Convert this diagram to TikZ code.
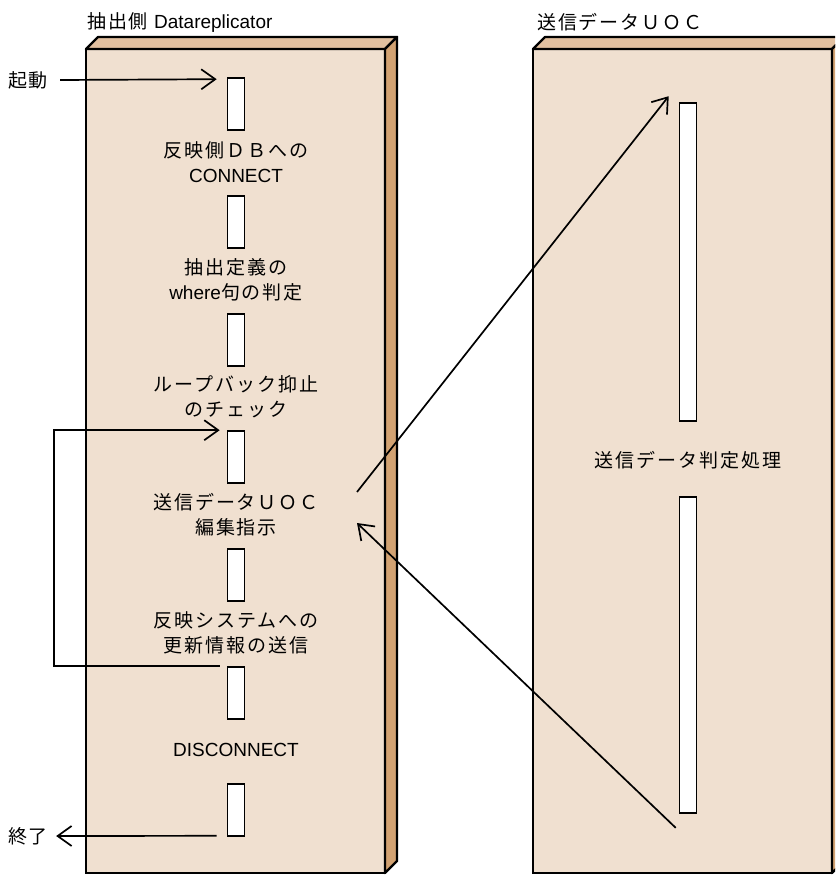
\documentclass[tikz,border=0pt]{standalone}
\usepackage{fontspec}
\setmainfont{Noto Sans CJK JP}[LetterSpace=10]
\newfontfamily\latin{Liberation Sans}
\usetikzlibrary{arrows.meta, positioning}
\definecolor{slabfront}{HTML}{F0E0D0}
\definecolor{slabtop}{HTML}{E2C0A0}
\definecolor{slabside}{HTML}{D2A272}

\begin{document}
\begin{tikzpicture}[
    x=1pt, y=-1pt,
    front/.style={draw, line width=2.4pt, fill=slabfront},
    topface/.style={draw, line width=2.4pt, fill=slabtop, line join=round},
    sideface/.style={draw, line width=2.4pt, fill=slabside, line join=round},
    act/.style={draw, fill=white, line width=1.6pt, minimum width=17pt, minimum height=52pt, inner sep=0pt},
    lbl/.style={font=\fontsize{19}{25}\selectfont, align=center, inner sep=0pt},
    arrow/.style={-{Straight Barb[length=14pt, width=20pt]}, line width=1.7pt}
]
\useasboundingbox (0,0) rectangle (835,877);
\clip (0,0) rectangle (835,877);

% --- 二つの筐体 ---
\foreach \bx in {86,533} {
  \draw[front] (\bx,49) rectangle ++(299,824);
  \draw[topface] (\bx,49) -- ++(12,-12) -- ++(299,0) -- ++(-12,12) -- cycle;
  \draw[sideface] (\bx,49) ++(299,0) -- ++(12,-12) -- ++(0,824) -- ++(-12,12) -- cycle;
}
\node[lbl, anchor=west] (srcttl) at (87,22) {抽出側 {\latin Datareplicator}};
\node[lbl, anchor=west] (uocttl) at (537,22) {送信データＵＯＣ};

% --- 抽出側の処理 ---
\foreach \i/\y in {1/104, 2/222, 3/340, 4/457, 5/575, 6/693, 7/810}
  \node[act] (a\i) at (236,\y) {};
\node[lbl] (l1) at (236,162) {反映側ＤＢへの\\{\latin CONNECT}};
\node[lbl] (l2) at (236,280) {抽出定義の\\{\latin where}句の判定};
\node[lbl] (l3) at (236,397) {ループバック抑止\\のチェック};
\node[lbl] (l4) at (236,515) {送信データＵＯＣ\\編集指示};
\node[lbl] (l5) at (236,633) {反映システムへの\\更新情報の送信};
\node[lbl] (l6) at (236,750) {\latin DISCONNECT};

% --- 送信データUOC ---
\node[act, minimum height=318pt] (u1) at (688,262) {};
\node[act, minimum height=316pt] (u2) at (688,655) {};
\node[lbl] (ul) at (688,460) {送信データ判定処理};

% 起動・終了
\node[lbl] (start) at (28,80) {起動};
\node[lbl] (stop) at (28,836) {終了};
\draw[arrow] ([xshift=12pt]start.east) -- ([xshift=-10pt, yshift=-2pt]a1.north west);
\draw[arrow] ([xshift=-10pt, yshift=1pt]a7.south west) -- ([xshift=8pt]stop.east);

% ループ
\draw[arrow] ([xshift=-7pt]a6.north west) -- ++(-166,0) |- ([xshift=-7pt]a4.north west);

% UOC 呼出しと復帰
\coordinate (sendout) at (357,492);
\coordinate (sendin) at (357,523);
\draw[arrow] (sendout) -- ([xshift=-10pt, yshift=6pt]u1.north west);
\draw[arrow] ([xshift=-3pt, yshift=-14pt]u2.south west) -- (sendin);
\end{tikzpicture}
\end{document}
